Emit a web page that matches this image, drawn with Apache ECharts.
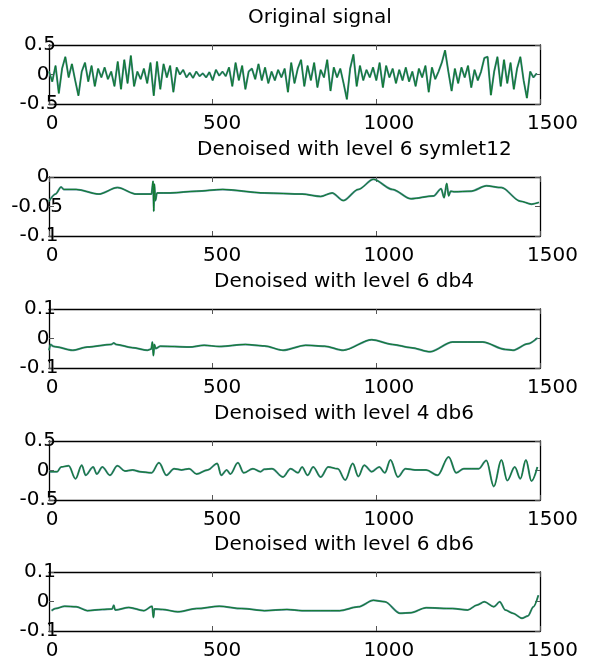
<!DOCTYPE html>
<html><head><meta charset="utf-8">
<script src="https://cdn.jsdelivr.net/npm/echarts@6.0.0/dist/echarts.min.js"></script>
<style>html,body{margin:0;padding:0;background:#fff}#c{width:592px;height:666px}</style>
</head><body><div id="c"></div>
<script>
// ---------- data ----------
const titles = ['Original signal','Denoised with level 6 symlet12','Denoised with level 6 db4','Denoised with level 4 db6','Denoised with level 6 db6'];
const xTickLabels = ['0','500','1000','1500'];
const yTicks1 = [-0.5, 0, 0.5];
const yTicks2 = [-0.1, -0.05, 0];
const yTicks3 = [-0.1, 0, 0.1];
const yTicks4 = [-0.5, 0, 0.5];
const yTicks5 = [-0.1, 0, 0.1];

const origX = [0,10,20,30,40,50,60,70,80,90,100,110,120,130,140,150,160,170,180,190,
200,210,220,230,240,250,260,270,280,290,300,310,320,330,340,350,360,370,380,390,
400,410,420,430,440,450,460,470,480,490,500,510,520,530,540,550,560,570,580,590,
600,610,620,630,640,650,660,670,680,690,700,710,720,730,740,750,760,770,780,790,
800,810,820,830,840,850,860,870,880,890,900,910,920,930,940,950,960,970,980,990,
1000,1010,1020,1030,1040,1050,1060,1070,1080,1090,1100,1110,1120,1130,1140,1150,1160,1170,1180,1190,
1200,1210,1220,1230,1240,1250,1260,1270,1280,1290,1300,1310,1320,1330,1340,1350,1360,1370,1380,1390,
1400,1410,1420,1430,1440,1450,1460,1470,1480,1490];
const origY = [
0.05,-0.12,0.15,-0.32,0.1,0.3,-0.05,0.18,-0.1,-0.36,
0.05,0.2,-0.12,0.15,-0.2,0.1,-0.05,0.12,-0.08,0.05,
-0.2,0.22,-0.25,0.25,-0.15,0.32,-0.2,0.05,-0.08,0.1,
-0.15,0.2,-0.36,0.22,-0.25,0.18,-0.05,0.15,-0.3,0.12,
0.0,0.08,-0.05,0.03,-0.06,0.05,-0.03,0.02,-0.05,0.04,
-0.1,0.08,-0.02,0.05,-0.03,0.12,-0.2,0.2,-0.1,0.15,
-0.25,0.05,0.1,-0.08,0.18,-0.1,0.12,-0.15,0.05,-0.1,
0.08,-0.05,0.1,-0.3,0.2,-0.15,0.1,0.25,-0.2,0.15,
-0.1,0.2,-0.22,0.08,-0.05,0.25,-0.28,0.12,-0.05,0.1,
-0.15,-0.42,0.1,0.34,-0.2,0.15,-0.1,0.08,-0.05,0.12,
-0.1,0.2,-0.22,0.15,-0.05,0.1,-0.15,0.08,-0.1,0.12,
-0.12,0.05,-0.2,0.1,-0.05,0.15,-0.3,0.12,-0.08,0.05,
0.2,0.41,0.05,-0.28,0.1,-0.15,0.12,-0.05,0.15,-0.22,
0.08,-0.1,0.05,0.28,0.3,-0.35,0.05,0.3,-0.2,0.25,
-0.15,0.2,-0.25,0.1,0.3,-0.1,-0.4,0.05,-0.05,0.02];

const sym12X = [0,20,37,45,83,152,209,267,313,318,320,322,325,330,370,451,531,658,773,830,865,899,945,991,1049,1106,1175,1198,1207,1215,1221,1227,1238,1290,1336,1382,1440,1474,1497];
const sym12Y = [-0.041,-0.029,-0.017,-0.021,-0.021,-0.029,-0.018,-0.029,-0.029,-0.007,-0.058,-0.012,-0.04,-0.027,-0.027,-0.024,-0.021,-0.027,-0.029,-0.033,-0.027,-0.040,-0.021,-0.004,-0.021,-0.037,-0.032,-0.020,-0.035,-0.011,-0.032,-0.024,-0.025,-0.024,-0.015,-0.018,-0.041,-0.046,-0.043];

const db4X = [0,5,12,20,71,117,190,198,205,255,301,312,316,319,322,326,340,428,474,520,600,658,715,784,842,899,986,1049,1106,1164,1233,1325,1394,1417,1463,1492];
const db4Y = [-0.04,-0.02,-0.026,-0.028,-0.04,-0.029,-0.02,-0.015,-0.02,-0.031,-0.04,-0.036,-0.012,-0.058,-0.02,-0.034,-0.026,-0.029,-0.023,-0.027,-0.02,-0.025,-0.04,-0.023,-0.026,-0.04,-0.004,-0.02,-0.031,-0.045,-0.012,-0.012,-0.037,-0.04,-0.018,0.002];

const db6L4X = [2,25,37,60,81,100,112,135,146,163,186,209,232,255,278,313,336,359,382,405,428,451,485,514,526,543,554,577,595,623,646,658,681,715,738,761,773,790,807,830,853,882,905,928,945,963,986,1009,1026,1043,1066,1089,1118,1152,1187,1221,1244,1267,1313,1336,1359,1382,1400,1423,1440,1457,1474,1492];
const db6L4Y = [-0.02,-0.02,0.06,0.08,-0.14,0.09,-0.08,0.06,-0.06,0.06,-0.08,0.08,-0.01,0.01,-0.02,-0.04,0.13,-0.08,0.03,0.01,0.03,-0.06,0.01,0.12,-0.08,0.01,-0.06,0.13,-0.04,0.03,-0.02,0.02,0.03,-0.11,0.03,-0.04,0.06,-0.08,0.06,-0.11,0.06,0.03,-0.16,0.12,-0.1,0.09,-0.02,0.06,-0.04,0.18,-0.11,0.03,0.01,0.01,-0.08,0.23,-0.04,0.03,0.03,0.17,-0.27,0.18,-0.17,0.06,-0.14,0.18,-0.18,0.06];

const db6L6X = [8,20,48,83,117,163,193,198,202,244,290,315,319,322,347,393,451,520,589,658,727,773,888,945,991,1026,1072,1106,1152,1233,1279,1308,1330,1359,1377,1394,1417,1445,1463,1480,1495];
const db6L6Y = [-0.031,-0.024,-0.016,-0.018,-0.031,-0.027,-0.025,-0.013,-0.029,-0.02,-0.031,-0.016,-0.054,-0.025,-0.027,-0.035,-0.024,-0.016,-0.024,-0.031,-0.027,-0.031,-0.031,-0.018,0.004,-0.001,-0.04,-0.038,-0.021,-0.024,-0.029,-0.012,-0.001,-0.018,-0.001,-0.029,-0.04,-0.057,-0.049,-0.018,0.021];

// ---------- layout ----------
const FONT = 'DejaVu Sans';
const FS = 20;
const ctx = document.createElement('canvas').getContext('2d');
ctx.font = FS + 'px "' + FONT + '"';
const tw = s => ctx.measureText(s).width;

const panels = [
  {x: origX, y: origY, ticks: yTicks1, smooth: false},
  {x: sym12X, y: sym12Y, ticks: yTicks2, smooth: 0.3},
  {x: db4X, y: db4Y, ticks: yTicks3, smooth: 0.3},
  {x: db6L4X, y: db6L4Y, ticks: yTicks4, smooth: 0.35},
  {x: db6L6X, y: db6L6Y, ticks: yTicks5, smooth: 0.3}
];
const tops = [45, 177, 309, 441, 572];
const GL = 49, GW = 491, GH = 59;
const titleCy = [18, 150, 282, 414, 545];

const fmtNum = v => {
  const r = Math.round(v * 1000) / 1000;
  return r === 0 ? '0' : String(r);
};
const zip = (a, b) => a.slice(0, Math.min(a.length, b.length)).map((v, i) => [v, b[i]]);

const lineStyle = {color: '#000', width: 1.3};
const tickStyle = {inside: true, length: 5, lineStyle: {color: '#555', width: 1}};

const option = {
  animation: false,
  backgroundColor: '#fff',
  textStyle: {fontFamily: FONT},
  title: [], grid: [], xAxis: [], yAxis: [], series: []
};

const xRich = {};
xTickLabels.forEach((s, i) => {
  xRich['x' + i] = {fontSize: FS, fontFamily: FONT, color: '#000', padding: [0, 0, 0, Math.round(tw(s) * 0.5)]};
});
const xFormatter = v => {
  const s = fmtNum(v);
  const i = xTickLabels.indexOf(s);
  return i >= 0 ? '{x' + i + '|' + s + '}' : s;
};

panels.forEach((p, i) => {
  const w = tw(titles[i]);
  option.title.push({
    text: titles[i],
    left: Math.round(291.5 - 0.3 * w),
    top: titleCy[i] - FS / 2,
    padding: 0,
    textStyle: {fontSize: FS, fontWeight: 'normal', fontFamily: FONT, color: '#000'}
  });
  option.grid.push({left: GL, top: tops[i], width: GW, height: GH, containLabel: false});

  const ymin = p.ticks[0], ymax = p.ticks[p.ticks.length - 1];
  const yint = p.ticks[1] - p.ticks[0];
  const yLabels = p.ticks.map(fmtNum);
  const yRich = {};
  yLabels.forEach((s, k) => {
    yRich['y' + k] = {fontSize: FS, fontFamily: FONT, color: '#000', padding: [0, Math.round(tw(s) * 0.3), 0, 0]};
  });
  const yFormatter = v => {
    const s = fmtNum(v);
    const k = yLabels.indexOf(s);
    return k >= 0 ? '{y' + k + '|' + s + '}' : s;
  };

  option.xAxis.push({
    gridIndex: i, type: 'value', min: 0, max: 1500, interval: 500, position: 'bottom',
    axisLine: {show: true, onZero: false, lineStyle},
    axisTick: tickStyle,
    splitLine: {show: false},
    axisLabel: {margin: 10, fontSize: FS, fontFamily: FONT, color: '#000', formatter: xFormatter, rich: xRich, showMinLabel: true, showMaxLabel: true, hideOverlap: false}
  });
  option.xAxis.push({
    gridIndex: i, type: 'value', min: 0, max: 1500, interval: 500, position: 'top',
    axisLine: {show: true, onZero: false, lineStyle},
    axisTick: tickStyle, splitLine: {show: false}, axisLabel: {show: false}
  });
  option.yAxis.push({
    gridIndex: i, type: 'value', min: ymin, max: ymax, interval: yint, position: 'left',
    axisLine: {show: true, onZero: false, lineStyle},
    axisTick: tickStyle, splitLine: {show: false},
    axisLabel: {margin: 4, align: 'center', fontSize: FS, fontFamily: FONT, color: '#000', formatter: yFormatter, rich: yRich, showMinLabel: true, showMaxLabel: true, hideOverlap: false}
  });
  option.yAxis.push({
    gridIndex: i, type: 'value', min: ymin, max: ymax, interval: yint, position: 'right',
    axisLine: {show: true, onZero: false, lineStyle},
    axisTick: tickStyle, splitLine: {show: false}, axisLabel: {show: false}
  });

  const data = zip(p.x, p.y);
  option.series.push({
    type: 'line', xAxisIndex: 2 * i, yAxisIndex: 2 * i, data, showSymbol: false, symbol: 'none',
    smooth: p.smooth, smoothMonotone: 'x', clip: true, lineStyle: {color: '#4a8690', width: 2}, z: 2
  });
  option.series.push({
    type: 'line', xAxisIndex: 2 * i, yAxisIndex: 2 * i, data, showSymbol: false, symbol: 'none',
    smooth: p.smooth, smoothMonotone: 'x', clip: true, lineStyle: {color: '#087a1e', width: 0.9}, z: 3
  });
});

const chart = echarts.init(document.getElementById('c'), null, {renderer: 'canvas'});
chart.setOption(option);
</script>
</body></html>
